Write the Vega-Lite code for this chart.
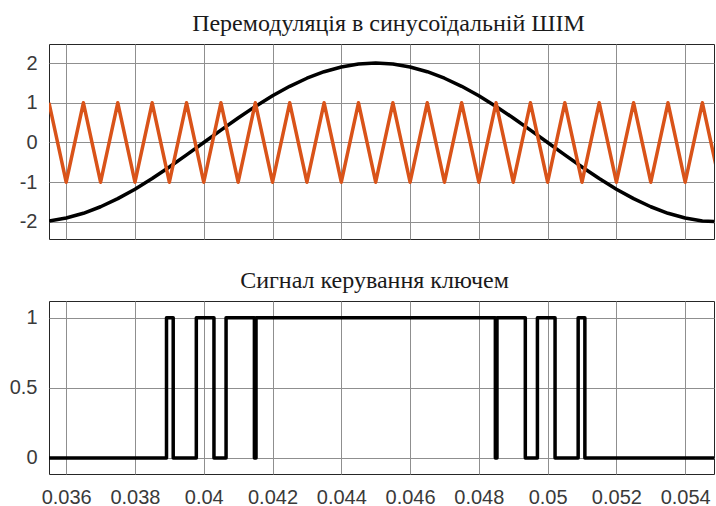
{
  "$schema": "https://vega.github.io/schema/vega-lite/v6.json",
  "background": "white",
  "padding": {"left": 8, "top": 11, "right": 0, "bottom": 0},
  "spacing": 28,
  "config": {
    "view": {"stroke": "#262626", "strokeWidth": 1},
    "axis": {
      "labelFont": "Liberation Sans",
      "labelFontSize": 20,
      "labelColor": "#3a3a3a",
      "labelExpr": "'' + datum.value",
      "grid": true,
      "gridColor": "#8f8f8f",
      "gridOpacity": 1,
      "gridWidth": 1,
      "ticks": false,
      "domain": false,
      "title": null
    },
    "title": {"font": "Liberation Serif", "fontSize": 24, "fontWeight": "normal", "color": "#1a1a1a", "offset": 8}
  },
  "datasets": {
    "wave": [
      {"t": 0.0355, "v": -1.975, "s": "sine"},
      {"t": 0.036, "v": -1.902, "s": "sine"},
      {"t": 0.0365, "v": -1.782, "s": "sine"},
      {"t": 0.037, "v": -1.618, "s": "sine"},
      {"t": 0.0375, "v": -1.414, "s": "sine"},
      {"t": 0.038, "v": -1.176, "s": "sine"},
      {"t": 0.0385, "v": -0.908, "s": "sine"},
      {"t": 0.039, "v": -0.618, "s": "sine"},
      {"t": 0.0395, "v": -0.313, "s": "sine"},
      {"t": 0.04, "v": 0, "s": "sine"},
      {"t": 0.0405, "v": 0.313, "s": "sine"},
      {"t": 0.041, "v": 0.618, "s": "sine"},
      {"t": 0.0415, "v": 0.908, "s": "sine"},
      {"t": 0.042, "v": 1.176, "s": "sine"},
      {"t": 0.0425, "v": 1.414, "s": "sine"},
      {"t": 0.043, "v": 1.618, "s": "sine"},
      {"t": 0.0435, "v": 1.782, "s": "sine"},
      {"t": 0.044, "v": 1.902, "s": "sine"},
      {"t": 0.0445, "v": 1.975, "s": "sine"},
      {"t": 0.045, "v": 2.0, "s": "sine"},
      {"t": 0.0455, "v": 1.975, "s": "sine"},
      {"t": 0.046, "v": 1.902, "s": "sine"},
      {"t": 0.0465, "v": 1.782, "s": "sine"},
      {"t": 0.047, "v": 1.618, "s": "sine"},
      {"t": 0.0475, "v": 1.414, "s": "sine"},
      {"t": 0.048, "v": 1.176, "s": "sine"},
      {"t": 0.0485, "v": 0.908, "s": "sine"},
      {"t": 0.049, "v": 0.618, "s": "sine"},
      {"t": 0.0495, "v": 0.313, "s": "sine"},
      {"t": 0.05, "v": 0, "s": "sine"},
      {"t": 0.0505, "v": -0.313, "s": "sine"},
      {"t": 0.051, "v": -0.618, "s": "sine"},
      {"t": 0.0515, "v": -0.908, "s": "sine"},
      {"t": 0.052, "v": -1.176, "s": "sine"},
      {"t": 0.0525, "v": -1.414, "s": "sine"},
      {"t": 0.053, "v": -1.618, "s": "sine"},
      {"t": 0.0535, "v": -1.782, "s": "sine"},
      {"t": 0.054, "v": -1.902, "s": "sine"},
      {"t": 0.0545, "v": -1.975, "s": "sine"},
      {"t": 0.055, "v": -2.0, "s": "sine"},
      {"t": 0.0355, "v": 1, "s": "carrier"},
      {"t": 0.036, "v": -1, "s": "carrier"},
      {"t": 0.0365, "v": 1, "s": "carrier"},
      {"t": 0.037, "v": -1, "s": "carrier"},
      {"t": 0.0375, "v": 1, "s": "carrier"},
      {"t": 0.038, "v": -1, "s": "carrier"},
      {"t": 0.0385, "v": 1, "s": "carrier"},
      {"t": 0.039, "v": -1, "s": "carrier"},
      {"t": 0.0395, "v": 1, "s": "carrier"},
      {"t": 0.04, "v": -1, "s": "carrier"},
      {"t": 0.0405, "v": 1, "s": "carrier"},
      {"t": 0.041, "v": -1, "s": "carrier"},
      {"t": 0.0415, "v": 1, "s": "carrier"},
      {"t": 0.042, "v": -1, "s": "carrier"},
      {"t": 0.0425, "v": 1, "s": "carrier"},
      {"t": 0.043, "v": -1, "s": "carrier"},
      {"t": 0.0435, "v": 1, "s": "carrier"},
      {"t": 0.044, "v": -1, "s": "carrier"},
      {"t": 0.0445, "v": 1, "s": "carrier"},
      {"t": 0.045, "v": -1, "s": "carrier"},
      {"t": 0.0455, "v": 1, "s": "carrier"},
      {"t": 0.046, "v": -1, "s": "carrier"},
      {"t": 0.0465, "v": 1, "s": "carrier"},
      {"t": 0.047, "v": -1, "s": "carrier"},
      {"t": 0.0475, "v": 1, "s": "carrier"},
      {"t": 0.048, "v": -1, "s": "carrier"},
      {"t": 0.0485, "v": 1, "s": "carrier"},
      {"t": 0.049, "v": -1, "s": "carrier"},
      {"t": 0.0495, "v": 1, "s": "carrier"},
      {"t": 0.05, "v": -1, "s": "carrier"},
      {"t": 0.0505, "v": 1, "s": "carrier"},
      {"t": 0.051, "v": -1, "s": "carrier"},
      {"t": 0.0515, "v": 1, "s": "carrier"},
      {"t": 0.052, "v": -1, "s": "carrier"},
      {"t": 0.0525, "v": 1, "s": "carrier"},
      {"t": 0.053, "v": -1, "s": "carrier"},
      {"t": 0.0535, "v": 1, "s": "carrier"},
      {"t": 0.054, "v": -1, "s": "carrier"},
      {"t": 0.0545, "v": 1, "s": "carrier"},
      {"t": 0.055, "v": -1, "s": "carrier"}
    ],
    "signal": [
      {"t": 0.0355, "v": 0},
      {"t": 0.038917, "v": 1},
      {"t": 0.039112, "v": 0},
      {"t": 0.039784, "v": 1},
      {"t": 0.040297, "v": 0},
      {"t": 0.040649, "v": 1},
      {"t": 0.041473, "v": 0},
      {"t": 0.04152, "v": 1},
      {"t": 0.04848, "v": 0},
      {"t": 0.048527, "v": 1},
      {"t": 0.049351, "v": 0},
      {"t": 0.049703, "v": 1},
      {"t": 0.050216, "v": 0},
      {"t": 0.050888, "v": 1},
      {"t": 0.051083, "v": 0},
      {"t": 0.055, "v": 0}
    ]
  },
  "vconcat": [
    {
      "title": {"text": "Перемодуляція в синусоїдальній ШІМ", "dx": 7},
      "width": 665,
      "height": 195,
      "data": {"name": "wave"},
      "mark": {"type": "line", "strokeWidth": 3.5, "clip": true, "strokeJoin": "round"},
      "encoding": {
        "x": {
          "field": "t",
          "type": "quantitative",
          "scale": {"domain": [0.0355, 0.054838], "nice": false, "zero": false},
          "axis": {"values": [0.036, 0.038, 0.04, 0.042, 0.044, 0.046, 0.048, 0.05, 0.052, 0.054], "labels": false}
        },
        "y": {
          "field": "v",
          "type": "quantitative",
          "scale": {"domain": [-2.43, 2.48], "nice": false, "zero": false},
          "axis": {"values": [-2, -1, 0, 1, 2], "labelPadding": 12}
        },
        "color": {
          "field": "s",
          "type": "nominal",
          "scale": {"domain": ["sine", "carrier"], "range": ["#000000", "#d95319"]},
          "legend": null
        }
      }
    },
    {
      "title": {"text": "Сигнал керування ключем", "dx": -7},
      "width": 665,
      "height": 173,
      "data": {"name": "signal"},
      "mark": {"type": "line", "interpolate": "step-after", "color": "#000000", "strokeWidth": 3.5, "clip": true, "strokeJoin": "round"},
      "encoding": {
        "x": {
          "field": "t",
          "type": "quantitative",
          "scale": {"domain": [0.0355, 0.054838], "nice": false, "zero": false},
          "axis": {"values": [0.036, 0.038, 0.04, 0.042, 0.044, 0.046, 0.048, 0.05, 0.052, 0.054], "labelPadding": 13}
        },
        "y": {
          "field": "v",
          "type": "quantitative",
          "scale": {"domain": [-0.115, 1.12], "nice": false, "zero": false},
          "axis": {"values": [0, 0.5, 1], "labelPadding": 12}
        }
      }
    }
  ]
}
